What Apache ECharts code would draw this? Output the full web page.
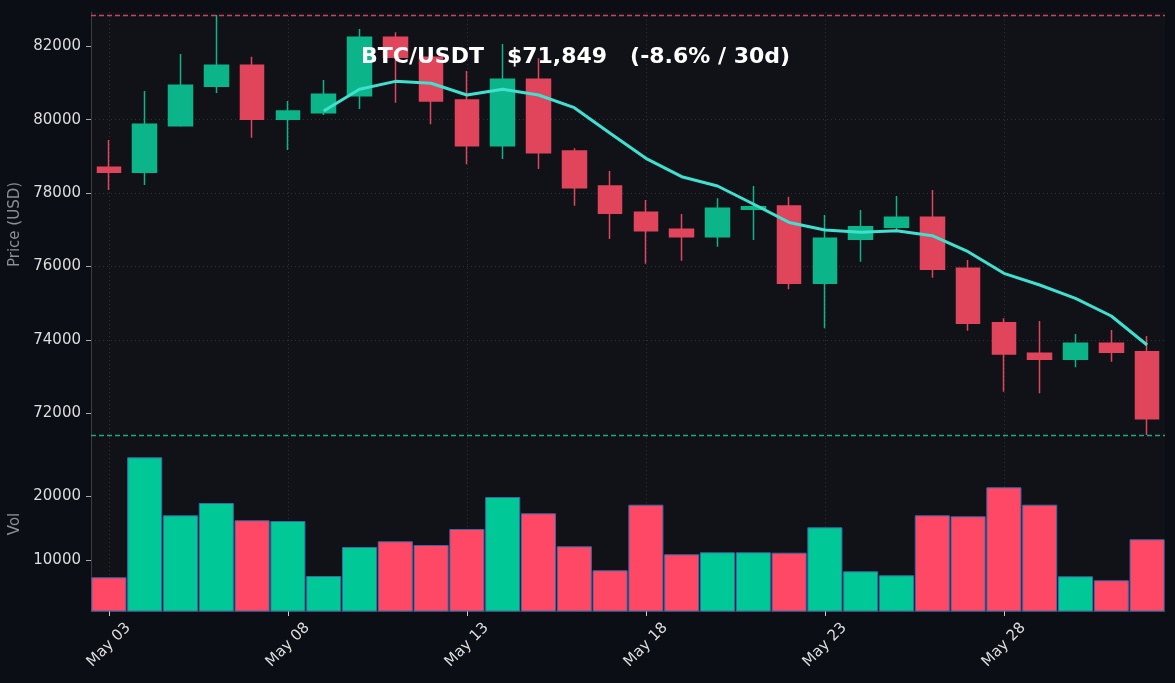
<!DOCTYPE html>
<html>
<head>
<meta charset="utf-8">
<script src="https://cdn.jsdelivr.net/npm/echarts@6/dist/echarts.min.js"></script>
<style>
html,body{margin:0;padding:0;background:#0b0e15;}
#chart{width:1175px;height:683px;}
</style>
</head>
<body>
<div id="chart"></div>
<script>
const dates = ['May 03','May 04','May 05','May 06','May 07','May 08','May 09','May 10','May 11','May 12',
  'May 13','May 14','May 15','May 16','May 17','May 18','May 19','May 20','May 21','May 22',
  'May 23','May 24','May 25','May 26','May 27','May 28','May 29','May 30','May 31','Jun 01'];
const opens = [78703,78566,79836,80910,81482,80011,80191,80654,82245,81700,
  80537,79291,81101,79147,78193,77477,77013,76812,77558,77648,
  75542,76741,77068,77340,75951,74468,73634,73470,73907,73678];
const closes = [78566,79874,80937,81482,80011,80237,80692,82245,81700,80509,
  79291,81101,79101,78147,77449,76976,76812,77586,77630,75542,
  76768,77084,77340,75923,74452,73615,73470,73907,73662,71849];
const highs = [79447,80782,81790,82853,81717,80509,81082,82471,82381,81850,
  81327,82063,81673,79221,78602,77812,77430,77858,78193,77902,
  77403,77539,77921,78084,76177,74588,74514,74160,74269,74105];
const lows = [78084,78220,79809,80727,79509,79174,80128,80291,80463,79874,
  78785,78929,78656,77657,76749,76076,76158,76539,76722,75378,
  74316,76131,76976,75695,74250,72588,72543,73253,73406,71408];
const ma7 = [null,null,null,null,null,null,80237,80828,81045,80992,
  80673,80828,80673,80327,79629,78948,78447,78193,77703,77200,
  76994,76930,76976,76839,76403,75814,75495,75133,74651,73860];
const volumes = [7344,26094,17031,18953,16250,16141,7547,12078,12969,12391,
  14891,19891,17344,12188,8438,18688,10938,11250,11250,11188,
  15156,8281,7656,17031,16875,21406,18688,7500,6875,13281];
const priceTicks = [72000,74000,76000,78000,80000,82000];
const volTicks = [10000,20000];
const gridDates = ['May 03','May 08','May 13','May 18','May 23','May 28'];
const titleText = 'BTC/USDT   $71,849   (-8.6% / 30d)';

const UP = '#0bb589', DOWN = '#e0455c';
const VUP = '#00c896', VDOWN = '#ff4865';
const FONT = 'DejaVu Sans';
const GRIDC = '#2e3138';

const candleData = dates.map((d, i) => [opens[i], closes[i], lows[i], highs[i]]);
const volData = volumes.map((v, i) => ({
  value: v,
  itemStyle: { color: closes[i] >= opens[i] ? VUP : VDOWN }
}));
const maxHigh = Math.max(...highs);
const minLow = Math.min(...lows);
const vLines = gridDates.map(d => ({ xAxis: d }));
const plain = v => String(v);

const chart = echarts.init(document.getElementById('chart'), null, { renderer: 'canvas' });
chart.setOption({
  animation: false,
  backgroundColor: '#0b0e15',
  title: {
    text: titleText, left: 356, top: 41,
    textStyle: { color: '#ffffff', fontSize: 22, fontWeight: 'bold', fontFamily: FONT }
  },
  grid: [
    { left: 91, right: 10, top: 12, height: 425, show: true, backgroundColor: '#111217', borderWidth: 0,
      containLabel: false, outerBoundsMode: 'none' },
    { left: 91, right: 10, top: 437, height: 174, show: true, backgroundColor: '#111217', borderWidth: 0,
      containLabel: false, outerBoundsMode: 'none' }
  ],
  xAxis: [
    { type: 'category', gridIndex: 0, data: dates, boundaryGap: true,
      axisLine: { show: false }, axisTick: { show: false }, axisLabel: { show: false }, splitLine: { show: false } },
    { type: 'category', gridIndex: 1, data: dates, boundaryGap: true,
      axisLine: { show: true, lineStyle: { color: '#3a3d44' } },
      axisTick: { show: true, interval: 4, alignWithLabel: true, length: 5, lineStyle: { color: '#cccccc' } },
      axisLabel: { interval: 4, rotate: 45, align: 'center', verticalAlign: 'middle', margin: 34,
        color: '#dddddd', fontSize: 15, fontFamily: FONT },
      splitLine: { show: false } }
  ],
  yAxis: [
    { type: 'value', gridIndex: 0, min: 71353, max: 82935, splitNumber: 5, scale: true,
      name: 'Price (USD)', nameLocation: 'middle', nameGap: 55,
      nameTextStyle: { color: '#8b8e94', fontSize: 15, fontFamily: FONT },
      axisLine: { show: true, lineStyle: { color: '#3a3d44' } },
      axisTick: { show: true, length: 5, customValues: priceTicks, lineStyle: { color: '#aaaaaa' } },
      axisLabel: { customValues: priceTicks, formatter: plain, margin: 10, color: '#dddddd', fontSize: 15, fontFamily: FONT },
      splitLine: { show: true, showMinLine: false, showMaxLine: false, lineStyle: { color: GRIDC, type: [1, 3] } } },
    { type: 'value', gridIndex: 1, min: 2078, max: 29266, splitNumber: 3, scale: true,
      name: 'Vol', nameLocation: 'middle', nameGap: 55,
      nameTextStyle: { color: '#8b8e94', fontSize: 15, fontFamily: FONT },
      axisLine: { show: true, lineStyle: { color: '#3a3d44' } },
      axisTick: { show: true, length: 5, customValues: volTicks, lineStyle: { color: '#aaaaaa' } },
      axisLabel: { customValues: volTicks, formatter: plain, margin: 10, color: '#dddddd', fontSize: 15, fontFamily: FONT },
      splitLine: { show: true, showMinLine: false, showMaxLine: false, lineStyle: { color: GRIDC, type: [1, 3] } } }
  ],
  series: [
    { type: 'line', xAxisIndex: 0, yAxisIndex: 0, data: [], z: 0, silent: true,
      markLine: { z: 0, silent: true, symbol: 'none', label: { show: false },
        lineStyle: { color: GRIDC, type: [1, 3], width: 1 }, data: vLines } },
    { type: 'line', xAxisIndex: 1, yAxisIndex: 1, data: [], z: 0, silent: true,
      markLine: { z: 0, silent: true, symbol: 'none', label: { show: false },
        lineStyle: { color: GRIDC, type: [1, 3], width: 1 }, data: vLines } },
    { type: 'candlestick', xAxisIndex: 0, yAxisIndex: 0, data: candleData, barWidth: 24,
      itemStyle: { color: UP, color0: DOWN, borderColor: UP, borderColor0: DOWN, borderWidth: 1.5 },
      markLine: { silent: true, symbol: 'none', label: { show: false },
        lineStyle: { color: '#c8445b', type: [5, 3], width: 1.3 },
        data: [{ yAxis: maxHigh }] } },
    { type: 'line', xAxisIndex: 0, yAxisIndex: 0, data: ma7, symbol: 'none', z: 3,
      lineStyle: { color: '#40e0d0', width: 3 },
      markLine: { silent: true, symbol: 'none', label: { show: false },
        lineStyle: { color: '#25a583', type: [5, 3], width: 1.3 },
        data: [{ yAxis: minLow }] } },
    { type: 'bar', xAxisIndex: 1, yAxisIndex: 1, data: volData, barCategoryGap: '2%',
      itemStyle: { borderColor: '#3a6aa8', borderWidth: 1 } }
  ]
});
</script>
</body>
</html>
